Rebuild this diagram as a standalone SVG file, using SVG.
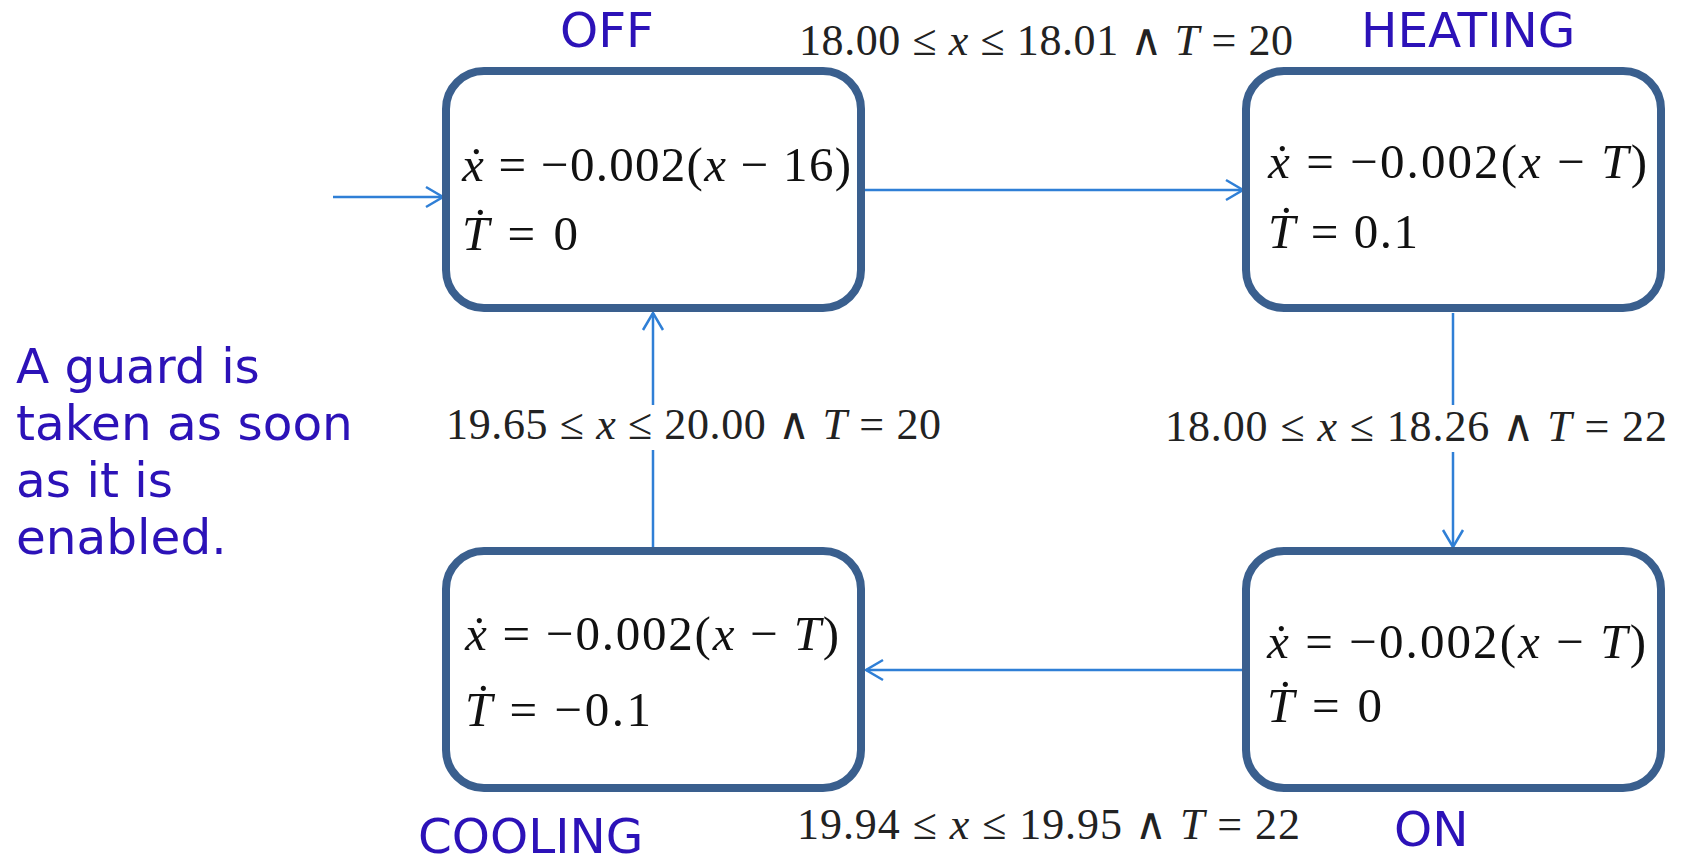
<svg xmlns="http://www.w3.org/2000/svg" width="1682" height="865" viewBox="0 0 1682 865">
<style>
.box{fill:#fff;stroke:#3a5f8e;stroke-width:8}
.lbl{font-family:"DejaVu Sans",Verdana,sans-serif;font-size:48.5px;fill:#2c12b8}
.note{font-family:"DejaVu Sans",Verdana,sans-serif;font-size:48.5px;fill:#2c12b8}
.eq{font-family:"Liberation Serif","DejaVu Serif",serif;font-size:49px;fill:#111}
.gd{font-family:"Liberation Serif","DejaVu Serif",serif;font-size:44px;fill:#222}
.i{font-style:italic}
.arr{fill:none;stroke:#2f7fd6;stroke-width:2.5}
</style>
<defs>
<marker id="ah" markerUnits="userSpaceOnUse" markerWidth="30" markerHeight="30" viewBox="-20 -15 24 30" refX="0" refY="0" orient="auto">
<path d="M-17,-10 L0,0 L-17,10" fill="none" stroke="#2f7fd6" stroke-width="2.5"/>
</marker>
</defs>
<rect width="1682" height="865" fill="#fff"/>

<g id="connectors">
<line class="arr" x1="333" y1="197" x2="443" y2="197" marker-end="url(#ah)"/>
<line class="arr" x1="865" y1="190" x2="1243" y2="190" marker-end="url(#ah)"/>
<line class="arr" x1="1453" y1="313" x2="1453" y2="405"/>
<line class="arr" x1="1453" y1="452" x2="1453" y2="547" marker-end="url(#ah)"/>
<line class="arr" x1="1242" y1="670" x2="866" y2="670" marker-end="url(#ah)"/>
<line class="arr" x1="653" y1="547" x2="653" y2="450"/>
<line class="arr" x1="653" y1="405" x2="653" y2="313" marker-end="url(#ah)"/>
<text class="gd" x="799" y="55" textLength="494" lengthAdjust="spacing">18.00 ≤ <tspan class="i">x</tspan> ≤ 18.01 ∧ <tspan class="i">T</tspan> = 20</text>
<text class="gd" x="1165" y="441" textLength="502" lengthAdjust="spacing">18.00 ≤ <tspan class="i">x</tspan> ≤ 18.26 ∧ <tspan class="i">T</tspan> = 22</text>
<text class="gd" x="446" y="439" textLength="495" lengthAdjust="spacing">19.65 ≤ <tspan class="i">x</tspan> ≤ 20.00 ∧ <tspan class="i">T</tspan> = 20</text>
<text class="gd" x="797" y="839" textLength="503" lengthAdjust="spacing">19.94 ≤ <tspan class="i">x</tspan> ≤ 19.95 ∧ <tspan class="i">T</tspan> = 22</text>
</g>

<g id="off">
<rect class="box" x="446" y="71" width="415" height="237" rx="38"/>
<text class="lbl" x="560" y="47">OFF</text>
<text class="eq" x="462" y="181" textLength="389" lengthAdjust="spacing"><tspan class="i">ẋ</tspan> = −0.002(<tspan class="i">x</tspan> − 16)</text>
<text class="eq" x="462" y="250" textLength="116" lengthAdjust="spacing"><tspan class="i">Ṫ</tspan> = 0</text>
</g>

<g id="heating">
<rect class="box" x="1246" y="71" width="415" height="237" rx="38"/>
<text class="lbl" x="1361" y="47">HEATING</text>
<text class="eq" x="1268" y="178" textLength="379" lengthAdjust="spacing"><tspan class="i">ẋ</tspan> = −0.002(<tspan class="i">x</tspan> − <tspan class="i">T</tspan>)</text>
<text class="eq" x="1268" y="248" textLength="150" lengthAdjust="spacing"><tspan class="i">Ṫ</tspan> = 0.1</text>
</g>

<g id="on">
<rect class="box" x="1246" y="551" width="415" height="237" rx="38"/>
<text class="lbl" x="1394" y="846">ON</text>
<text class="eq" x="1267" y="658" textLength="379" lengthAdjust="spacing"><tspan class="i">ẋ</tspan> = −0.002(<tspan class="i">x</tspan> − <tspan class="i">T</tspan>)</text>
<text class="eq" x="1267" y="722" textLength="115" lengthAdjust="spacing"><tspan class="i">Ṫ</tspan> = 0</text>
</g>

<g id="cooling">
<rect class="box" x="446" y="551" width="415" height="237" rx="38"/>
<text class="lbl" x="418" y="853">COOLING</text>
<text class="eq" x="465" y="650" textLength="374" lengthAdjust="spacing"><tspan class="i">ẋ</tspan> = −0.002(<tspan class="i">x</tspan> − <tspan class="i">T</tspan>)</text>
<text class="eq" x="465" y="726" textLength="186" lengthAdjust="spacing"><tspan class="i">Ṫ</tspan> = −0.1</text>
</g>

<g id="note">
<text class="note" x="16" y="383">A guard is</text>
<text class="note" x="16" y="440">taken as soon</text>
<text class="note" x="16" y="497">as it is</text>
<text class="note" x="16" y="554">enabled.</text>
</g>
</svg>
